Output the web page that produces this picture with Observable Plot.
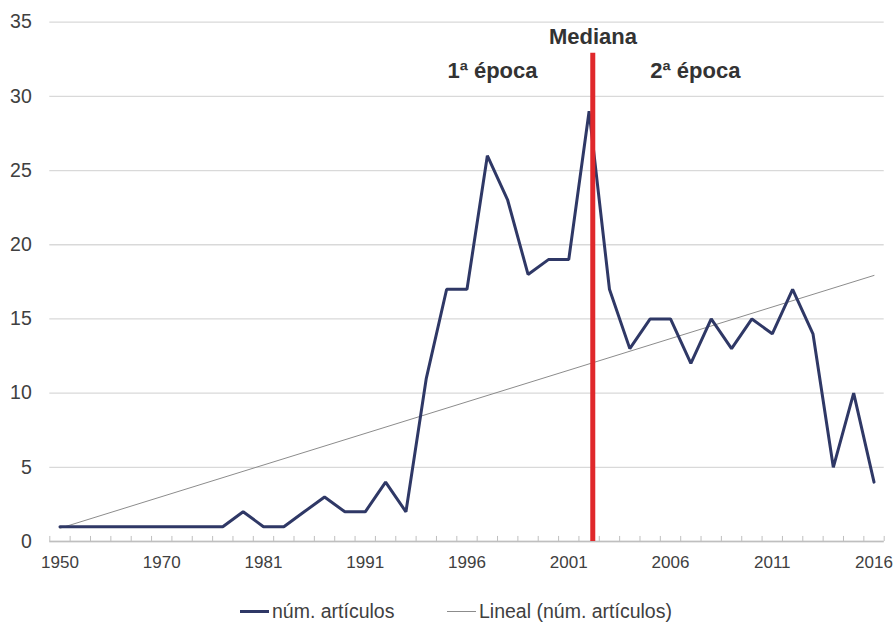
<!DOCTYPE html>
<html><head><meta charset="utf-8">
<script src="https://cdn.jsdelivr.net/npm/d3@7"></script>
<script src="https://cdn.jsdelivr.net/npm/@observablehq/plot@0.6"></script>
<style>
body{margin:0;background:#fff;font-family:"Liberation Sans",Arial,sans-serif;}
#legend{position:relative;width:893px;height:39px;color:#404040;font-size:19.5px;}
.item{position:absolute;top:15px;display:flex;align-items:center;white-space:nowrap;}
.sw{display:inline-block;width:29px;margin-right:3px;}
</style></head><body>
<div id="chart"></div>
<div id="legend">
  <div class="item" style="left:240px"><span class="sw" style="border-top:3px solid #2f3866"></span>núm. artículos</div>
  <div class="item" style="left:447px"><span class="sw" style="border-top:1px solid #8c8c8c"></span>Lineal (núm. artículos)</div>
</div>
<script>
// categories (the axis is categorical, one slot per year with publications)
const years = ["1950","1955","1960","1965","1968","1970","1972","1975","1977","1979",
  "1981","1983","1985","1987","1989","1991","1992","1993","1994","1995",
  "1996","1997","1998","1999","2000","2001","2002","2003","2004","2005",
  "2006","2007","2008","2009","2010","2011","2012","2013","2014","2015","2016"];
const articles = [1,1,1,1,1,1,1,1,1,2,
  1,1,2,3,2,2,4,2,11,17,
  17,26,23,18,19,19,29,17,13,15,
  15,12,15,13,15,14,17,14,5,10,4];
const xTickLabels = ["1950","1970","1981","1991","1996","2001","2006","2011","2016"];
const yTicks = [0,5,10,15,20,25,30,35];
// median position along the category axis (slot index) and its line top
const medianPos = [26.18];
const medianTop = 32.9;
const annotations = [
  {label:"Mediana", x:26.19, y:34.0},
  {label:"1ª época", x:21.25, y:31.7},
  {label:"2ª época", x:31.22, y:31.7}
];

const data = years.map((y,i)=>({i, year:y, v:articles[i]}));
const boundaries = years.map((_,i)=>i-0.5).concat([years.length-0.5]);
const labelIdx = xTickLabels.map(l=>years.indexOf(l));

const chart = Plot.plot({
  width: 893, height: 585,
  marginLeft: 49.3, marginRight: 9.3, marginTop: 21.7, marginBottom: 44,
  style: {fontFamily:"Liberation Sans, Arial, sans-serif", color:"#404040", background:"#fff"},
  x: {type:"linear", domain:[-0.5, years.length-0.5]},
  y: {domain:[0,35]},
  marks: [
    Plot.gridY(yTicks, {stroke:"#d9d9d9", strokeOpacity:1, strokeWidth:1.3}),
    Plot.ruleY([0], {stroke:"#bfbfbf", strokeWidth:1.3}),
    Plot.ruleX(boundaries, {x:d=>d, y1:0, y2:0.34, stroke:"#bfbfbf"}),
    Plot.axisY(yTicks, {tickSize:0, tickPadding:18, fontSize:19.5, label:null}),
    Plot.axisX(labelIdx, {tickSize:0, tickPadding:14, fontSize:17, label:null, tickFormat:i=>years[i]}),
    Plot.linearRegressionY(data, {x:"i", y:"v", ci:0, stroke:"#8c8c8c", strokeWidth:1}),
    Plot.line(data, {x:"i", y:"v", stroke:"#2f3866", strokeWidth:3, strokeLinejoin:"miter"}),
    Plot.ruleX(medianPos, {x:d=>d, y1:0, y2:medianTop, stroke:"#e0282b", strokeWidth:5}),
    Plot.text(annotations, {x:"x", y:"y", text:"label", fontSize:22, fontWeight:"bold", fill:"#333"})
  ]
});
document.getElementById("chart").appendChild(chart);
</script>
</body></html>
